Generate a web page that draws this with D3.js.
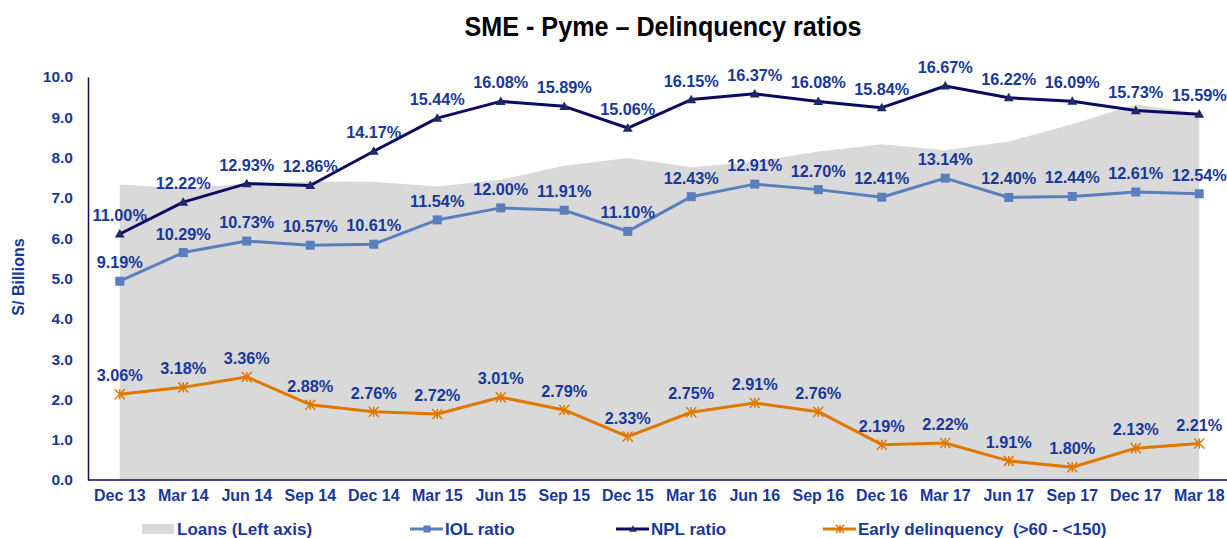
<!DOCTYPE html>
<html>
<head>
<meta charset="utf-8">
<script src="https://cdn.jsdelivr.net/npm/d3@7"></script>
<style>
  body { margin: 0; background: #fff; }
  svg { display: block; font-family: "Liberation Sans", Arial, sans-serif; }
</style>
</head>
<body>
<svg id="chart" width="1227" height="538"></svg>
<script>
// Quarters on the x axis
const quarters = ["Dec 13", "Mar 14", "Jun 14", "Sep 14", "Dec 14", "Mar 15", "Jun 15", "Sep 15", "Dec 15",
  "Mar 16", "Jun 16", "Sep 16", "Dec 16", "Mar 17", "Jun 17", "Sep 17", "Dec 17", "Mar 18"];

// Loans, S/ billions (left axis)
const loans = [7.33, 7.24, 7.35, 7.41, 7.40, 7.28, 7.45, 7.80, 7.99, 7.76, 7.90, 8.15, 8.33, 8.18, 8.40, 8.83, 9.32, 9.10];

// Ratios, %
const iolRatio = [9.19, 10.29, 10.73, 10.57, 10.61, 11.54, 12.00, 11.91, 11.10, 12.43, 12.91, 12.70, 12.41, 13.14, 12.40, 12.44, 12.61, 12.54];
const nplRatio = [11.00, 12.22, 12.93, 12.86, 14.17, 15.44, 16.08, 15.89, 15.06, 16.15, 16.37, 16.08, 15.84, 16.67, 16.22, 16.09, 15.73, 15.59];
const earlyDelinquency = [3.06, 3.18, 3.36, 2.88, 2.76, 2.72, 3.01, 2.79, 2.33, 2.75, 2.91, 2.76, 2.19, 2.22, 1.91, 1.80, 2.13, 2.21];

const leftTicks = [0, 1, 2, 3, 4, 5, 6, 7, 8, 9, 10];

const svg = d3.select("#chart");
const labelColor = "#18389a";
const navy = "#0b0b63";
const steel = "#5b7fbd";
const orange = "#e07800";

// scales
const x = d3.scaleBand().domain(quarters).range([88, 1231]);
const cx = d => x(d) + x.bandwidth() / 2;
const yLeft = d3.scaleLinear().domain([0, 10]).range([480, 77]);
// hidden secondary axes for the ratio lines
const yRatio = d3.scaleLinear().domain([1.575, 17.015]).range([480, 77]);
const yEarly = d3.scaleLinear().domain([1.58, 8.54]).range([480, 77]);

// Title
svg.append("text")
  .attr("x", 663).attr("y", 36)
  .attr("text-anchor", "middle")
  .attr("font-size", 27).attr("font-weight", "bold")
  .attr("textLength", 397).attr("lengthAdjust", "spacingAndGlyphs")
  .attr("fill", "#000")
  .text("SME - Pyme \u2013 Delinquency ratios");

// Loans area
const area = d3.area()
  .x((d, i) => cx(quarters[i]))
  .y0(yLeft(0))
  .y1(d => yLeft(d));
svg.append("path")
  .datum(loans)
  .attr("d", area)
  .attr("fill", "#d9d9d9");

// Left axis
const yAxis = svg.append("g")
  .attr("transform", "translate(88,0)")
  .call(d3.axisLeft(yLeft).tickValues(leftTicks).tickSize(0).tickPadding(15).tickFormat(d3.format(".1f")));
yAxis.select(".domain").attr("stroke", navy).attr("stroke-width", 1.5);
yAxis.selectAll("text")
  .attr("fill", labelColor).attr("font-size", 15.5).attr("font-weight", "bold")
  .attr("font-family", "Liberation Sans, Arial, sans-serif");

svg.append("text")
  .attr("transform", "translate(24,277) rotate(-90)")
  .attr("text-anchor", "middle")
  .attr("font-size", 16).attr("font-weight", "bold")
  .attr("fill", labelColor)
  .text("S/ Billions");

// Bottom axis
const xAxis = svg.append("g")
  .attr("transform", `translate(0,${ yLeft(0) })`)
  .call(d3.axisBottom(x).tickSize(0).tickPadding(10));
xAxis.select(".domain").attr("stroke", navy).attr("stroke-width", 1.5).attr("d", "M88,0H1227");
xAxis.selectAll("text")
  .attr("fill", labelColor).attr("font-size", 16).attr("font-weight", "bold")
  .attr("font-family", "Liberation Sans, Arial, sans-serif");

// Lines
const series = [
  { values: iolRatio, scale: yRatio, color: steel, marker: "square", markerColor: steel },
  { values: nplRatio, scale: yRatio, color: navy, marker: "triangle", markerColor: "#1c2a66" },
  { values: earlyDelinquency, scale: yEarly, color: orange, marker: "star", markerColor: orange }
];

function drawMarker(g, type, color, px, py, s)
{
  if (type === "square") {
    g.append("rect").attr("x", px - s / 2).attr("y", py - s / 2).attr("width", s).attr("height", s).attr("fill", color);
  } else if (type === "triangle") {
    g.append("path")
      .attr("d", `M${ px },${ py - s * 0.55 }L${ px + s * 0.55 },${ py + s * 0.4 }L${ px - s * 0.55 },${ py + s * 0.4 }Z`)
      .attr("fill", color);
  } else {
    const r = s / 2;
    g.append("path")
      .attr("d", `M${ px - r },${ py - r }L${ px + r },${ py + r }M${ px + r },${ py - r }L${ px - r },${ py + r }M${ px },${ py - r }L${ px },${ py + r }`)
      .attr("stroke", color).attr("stroke-width", 1.5).attr("fill", "none");
  }
}

series.forEach(s =>
{
  const line = d3.line()
    .x((d, i) => cx(quarters[i]))
    .y(d => s.scale(d));
  svg.append("path")
    .datum(s.values)
    .attr("d", line)
    .attr("fill", "none")
    .attr("stroke", s.color)
    .attr("stroke-width", 3)
    .attr("stroke-linejoin", "round");
  const mg = svg.append("g");
  s.values.forEach((v, i) => drawMarker(mg, s.marker, s.markerColor, cx(quarters[i]), s.scale(v), s.marker === "star" ? 10 : 9));
});

// Data labels
series.forEach(s =>
{
  svg.append("g").selectAll("text")
    .data(s.values)
    .join("text")
    .attr("x", (d, i) => cx(quarters[i]))
    .attr("y", d => s.scale(d) - 13)
    .attr("text-anchor", "middle")
    .attr("font-size", 16.3).attr("font-weight", "bold")
    .attr("fill", labelColor)
    .text(d => d.toFixed(2) + "%");
});

// Legend
const legendY = 529;
const legendItems = [
  { label: "Loans (Left axis)", x: 142, type: "area" },
  { label: "IOL ratio", x: 410, type: "square", color: steel },
  { label: "NPL ratio", x: 616, type: "triangle", color: navy, markerColor: "#1c2a66" },
  { label: "Early delinquency  (>60 - <150)", x: 823, type: "star", color: orange }
];
legendItems.forEach(it =>
{
  const g = svg.append("g");
  if (it.type === "area") {
    g.append("rect").attr("x", it.x).attr("y", legendY - 5).attr("width", 32).attr("height", 10).attr("fill", "#d9d9d9");
  } else {
    g.append("line").attr("x1", it.x).attr("x2", it.x + 33).attr("y1", legendY).attr("y2", legendY)
      .attr("stroke", it.color).attr("stroke-width", 3);
    drawMarker(g, it.type, it.markerColor || it.color, it.x + 17, legendY, it.type === "star" ? 8 : 7);
  }
  g.append("text")
    .attr("x", it.x + 35).attr("y", legendY + 6)
    .attr("font-size", 17).attr("font-weight", "bold")
    .attr("fill", labelColor)
    .style("white-space", "pre")
    .text(it.label);
});
</script>
</body>
</html>
